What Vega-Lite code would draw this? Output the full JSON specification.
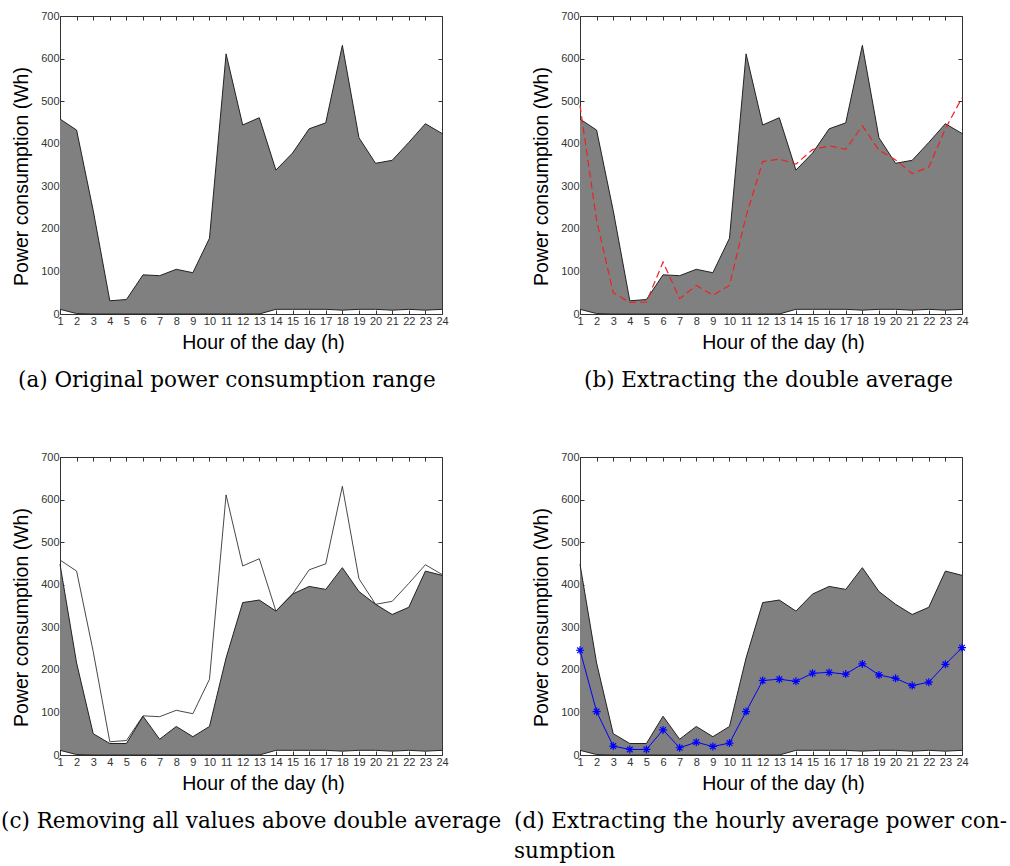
{
  "$schema": "https://vega.github.io/schema/vega-lite/v6.json",
  "background": "white",
  "padding": {"left": 0, "top": 9, "right": 0, "bottom": 0},
  "datasets": {
    "d": [
      {"hour": 1, "max": 458, "min": 11, "dbl": 490, "clip": 448, "avg": 246},
      {"hour": 2, "max": 432, "min": 1, "dbl": 220, "clip": 216, "avg": 102},
      {"hour": 3, "max": 243, "min": 0, "dbl": 50, "clip": 50, "avg": 21},
      {"hour": 4, "max": 31, "min": 0, "dbl": 27, "clip": 27, "avg": 13},
      {"hour": 5, "max": 34, "min": 0, "dbl": 28, "clip": 27, "avg": 13},
      {"hour": 6, "max": 92, "min": 0, "dbl": 122, "clip": 91, "avg": 59},
      {"hour": 7, "max": 90, "min": 0, "dbl": 36, "clip": 37, "avg": 17},
      {"hour": 8, "max": 105, "min": 0, "dbl": 67, "clip": 67, "avg": 30},
      {"hour": 9, "max": 97, "min": 0, "dbl": 44, "clip": 43, "avg": 20},
      {"hour": 10, "max": 178, "min": 0, "dbl": 67, "clip": 67, "avg": 28},
      {"hour": 11, "max": 611, "min": 0, "dbl": 230, "clip": 228, "avg": 102},
      {"hour": 12, "max": 444, "min": 0, "dbl": 358, "clip": 358, "avg": 175},
      {"hour": 13, "max": 461, "min": 0, "dbl": 364, "clip": 364, "avg": 178},
      {"hour": 14, "max": 338, "min": 11, "dbl": 352, "clip": 338, "avg": 173},
      {"hour": 15, "max": 378, "min": 11, "dbl": 386, "clip": 378, "avg": 192},
      {"hour": 16, "max": 435, "min": 11, "dbl": 395, "clip": 396, "avg": 194},
      {"hour": 17, "max": 449, "min": 11, "dbl": 387, "clip": 389, "avg": 190},
      {"hour": 18, "max": 631, "min": 9, "dbl": 442, "clip": 440, "avg": 214},
      {"hour": 19, "max": 414, "min": 11, "dbl": 385, "clip": 384, "avg": 188},
      {"hour": 20, "max": 354, "min": 11, "dbl": 362, "clip": 354, "avg": 180},
      {"hour": 21, "max": 361, "min": 9, "dbl": 330, "clip": 330, "avg": 163},
      {"hour": 22, "max": 403, "min": 11, "dbl": 345, "clip": 347, "avg": 171},
      {"hour": 23, "max": 447, "min": 9, "dbl": 435, "clip": 432, "avg": 213},
      {"hour": 24, "max": 424, "min": 11, "dbl": 508, "clip": 422, "avg": 252}
    ]
  },
  "columns": 2,
  "spacing": {"row": 143, "column": 138},
  "bounds": "flush",
  "concat": [
    {
      "width": 382, "height": 298,
      "data": {"name": "d"},
      "title": {"text": "(a) Original power consumption range", "dx": -42},
      "resolve": {"axis": {"x": "independent", "y": "independent"}},
      "layer": [
        {
          "mark": {"type": "area", "fill": "#808080", "opacity": 1},
          "encoding": {
            "x": {"field": "hour", "type": "quantitative", "scale": {"domain": [1, 24], "nice": false, "zero": false},
                  "axis": {"orient": "bottom", "title": "Hour of the day (h)", "values": [1,2,3,4,5,6,7,8,9,10,11,12,13,14,15,16,17,18,19,20,21,22,23,24]}},
            "y": {"field": "max", "type": "quantitative", "scale": {"domain": [0, 700], "nice": false},
                  "axis": {"orient": "left", "title": "Power consumption (Wh)", "values": [0,100,200,300,400,500,600,700]}},
            "y2": {"field": "min"}
          }
        },
        {
          "mark": {"type": "line", "stroke": "#222222", "strokeWidth": 1},
          "encoding": {
            "x": {"field": "hour", "type": "quantitative", "axis": {"orient": "top", "labels": false, "title": null, "values": [1,2,3,4,5,6,7,8,9,10,11,12,13,14,15,16,17,18,19,20,21,22,23,24]}},
            "y": {"field": "max", "type": "quantitative", "axis": {"orient": "right", "labels": false, "title": null, "values": [0,100,200,300,400,500,600,700]}}
          }
        },
        {
          "mark": {"type": "line", "stroke": "#222222", "strokeWidth": 1},
          "encoding": {
            "x": {"field": "hour", "type": "quantitative", "axis": null},
            "y": {"field": "min", "type": "quantitative", "axis": null}
          }
        }
      ]
    },
    {
      "width": 382, "height": 298,
      "data": {"name": "d"},
      "title": {"text": "(b) Extracting the double average", "dx": 4},
      "resolve": {"axis": {"x": "independent", "y": "independent"}},
      "layer": [
        {
          "mark": {"type": "area", "fill": "#808080", "opacity": 1},
          "encoding": {
            "x": {"field": "hour", "type": "quantitative", "scale": {"domain": [1, 24], "nice": false, "zero": false},
                  "axis": {"orient": "bottom", "title": "Hour of the day (h)", "values": [1,2,3,4,5,6,7,8,9,10,11,12,13,14,15,16,17,18,19,20,21,22,23,24]}},
            "y": {"field": "max", "type": "quantitative", "scale": {"domain": [0, 700], "nice": false},
                  "axis": {"orient": "left", "title": "Power consumption (Wh)", "values": [0,100,200,300,400,500,600,700]}},
            "y2": {"field": "min"}
          }
        },
        {
          "mark": {"type": "line", "stroke": "#222222", "strokeWidth": 1},
          "encoding": {
            "x": {"field": "hour", "type": "quantitative", "axis": {"orient": "top", "labels": false, "title": null, "values": [1,2,3,4,5,6,7,8,9,10,11,12,13,14,15,16,17,18,19,20,21,22,23,24]}},
            "y": {"field": "max", "type": "quantitative", "axis": {"orient": "right", "labels": false, "title": null, "values": [0,100,200,300,400,500,600,700]}}
          }
        },
        {
          "mark": {"type": "line", "stroke": "#222222", "strokeWidth": 1},
          "encoding": {
            "x": {"field": "hour", "type": "quantitative", "axis": null},
            "y": {"field": "min", "type": "quantitative", "axis": null}
          }
        },
        {
          "mark": {"type": "line", "stroke": "#f02020", "strokeWidth": 1.2, "strokeDash": [7, 4]},
          "encoding": {
            "x": {"field": "hour", "type": "quantitative", "axis": null},
            "y": {"field": "dbl", "type": "quantitative", "axis": null}
          }
        }
      ]
    },
    {
      "width": 382, "height": 298,
      "data": {"name": "d"},
      "title": {"text": "(c) Removing all values above double average", "dx": -59},
      "resolve": {"axis": {"x": "independent", "y": "independent"}},
      "layer": [
        {
          "mark": {"type": "area", "fill": "#808080", "opacity": 1},
          "encoding": {
            "x": {"field": "hour", "type": "quantitative", "scale": {"domain": [1, 24], "nice": false, "zero": false},
                  "axis": {"orient": "bottom", "title": "Hour of the day (h)", "values": [1,2,3,4,5,6,7,8,9,10,11,12,13,14,15,16,17,18,19,20,21,22,23,24]}},
            "y": {"field": "clip", "type": "quantitative", "scale": {"domain": [0, 700], "nice": false},
                  "axis": {"orient": "left", "title": "Power consumption (Wh)", "values": [0,100,200,300,400,500,600,700]}},
            "y2": {"field": "min"}
          }
        },
        {
          "mark": {"type": "line", "stroke": "#333333", "strokeWidth": 0.9},
          "encoding": {
            "x": {"field": "hour", "type": "quantitative", "axis": {"orient": "top", "labels": false, "title": null, "values": [1,2,3,4,5,6,7,8,9,10,11,12,13,14,15,16,17,18,19,20,21,22,23,24]}},
            "y": {"field": "max", "type": "quantitative", "axis": {"orient": "right", "labels": false, "title": null, "values": [0,100,200,300,400,500,600,700]}}
          }
        },
        {
          "mark": {"type": "line", "stroke": "#222222", "strokeWidth": 1},
          "encoding": {
            "x": {"field": "hour", "type": "quantitative", "axis": null},
            "y": {"field": "clip", "type": "quantitative", "axis": null}
          }
        },
        {
          "mark": {"type": "line", "stroke": "#222222", "strokeWidth": 1},
          "encoding": {
            "x": {"field": "hour", "type": "quantitative", "axis": null},
            "y": {"field": "min", "type": "quantitative", "axis": null}
          }
        }
      ]
    },
    {
      "width": 382, "height": 298,
      "data": {"name": "d"},
      "title": {"text": ["(d) Extracting the hourly average power con-", "\u00a0\u00a0\u00a0\u00a0sumption"], "dx": -66, "lineHeight": 30},
      "resolve": {"axis": {"x": "independent", "y": "independent"}},
      "layer": [
        {
          "mark": {"type": "area", "fill": "#808080", "opacity": 1},
          "encoding": {
            "x": {"field": "hour", "type": "quantitative", "scale": {"domain": [1, 24], "nice": false, "zero": false},
                  "axis": {"orient": "bottom", "title": "Hour of the day (h)", "values": [1,2,3,4,5,6,7,8,9,10,11,12,13,14,15,16,17,18,19,20,21,22,23,24]}},
            "y": {"field": "clip", "type": "quantitative", "scale": {"domain": [0, 700], "nice": false},
                  "axis": {"orient": "left", "title": "Power consumption (Wh)", "values": [0,100,200,300,400,500,600,700]}},
            "y2": {"field": "min"}
          }
        },
        {
          "mark": {"type": "line", "stroke": "#222222", "strokeWidth": 1},
          "encoding": {
            "x": {"field": "hour", "type": "quantitative", "axis": {"orient": "top", "labels": false, "title": null, "values": [1,2,3,4,5,6,7,8,9,10,11,12,13,14,15,16,17,18,19,20,21,22,23,24]}},
            "y": {"field": "clip", "type": "quantitative", "axis": {"orient": "right", "labels": false, "title": null, "values": [0,100,200,300,400,500,600,700]}}
          }
        },
        {
          "mark": {"type": "line", "stroke": "#222222", "strokeWidth": 1},
          "encoding": {
            "x": {"field": "hour", "type": "quantitative", "axis": null},
            "y": {"field": "min", "type": "quantitative", "axis": null}
          }
        },
        {
          "mark": {"type": "line", "stroke": "#0000ff", "strokeWidth": 1,
                   "point": {"shape": "M-1,0L1,0M0,-1L0,1M-0.7,-0.7L0.7,0.7M-0.7,0.7L0.7,-0.7", "filled": false, "size": 64, "stroke": "#0000ff", "strokeWidth": 1.2}},
          "encoding": {
            "x": {"field": "hour", "type": "quantitative", "axis": null},
            "y": {"field": "avg", "type": "quantitative", "axis": null}
          }
        }
      ]
    }
  ],
  "config": {
    "view": {"stroke": "#333333", "strokeWidth": 1},
    "axis": {
      "domain": false,
      "grid": false,
      "tickSize": -4,
      "tickColor": "#333333",
      "tickWidth": 1,
      "labelFont": "Liberation Sans",
      "labelFontSize": 11,
      "labelColor": "#333333",
      "labelOverlap": false,
      "labelFlush": false,
      "labelPadding": 5,
      "titleFont": "Liberation Sans",
      "titleFontSize": 19.5,
      "titleFontWeight": "normal",
      "titleColor": "#000000"
    },
    "axisBottom": {"titlePadding": 7, "titleX": 203},
    "axisLeft": {"titlePadding": 9, "titleY": 160},
    "title": {
      "orient": "bottom",
      "anchor": "start",
      "frame": "group",
      "offset": 18,
      "font": "DejaVu Serif",
      "fontSize": 21.5,
      "fontWeight": "normal",
      "color": "#000000"
    }
  }
}
